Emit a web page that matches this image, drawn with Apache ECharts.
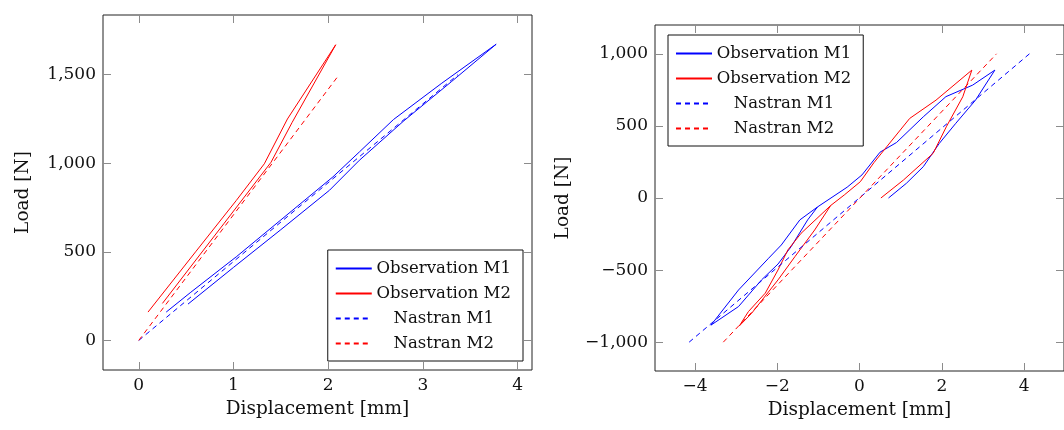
<!DOCTYPE html>
<html>
<head>
<meta charset="utf-8">
<script src="https://cdn.jsdelivr.net/npm/echarts@6/dist/echarts.min.js"></script>
<style>
  html, body { margin: 0; padding: 0; background: #fff; }
  #chart { width: 1064px; height: 430px; }
</style>
</head>
<body>
<div id="chart"></div>
<script>
// series names
const seriesNames = ['Observation M1', 'Observation M2', 'Nastran M1', 'Nastran M2'];

// left plot: monotonic loading [displacement mm, load N]
const leftObsM1 = [[0.29, 160], [0.55, 272], [1.03, 472], [1.5, 680], [2.05, 923], [2.33, 1064],
    [2.69, 1247], [3.2, 1452], [3.774, 1672], [3.3, 1460], [2.8, 1240], [2.33, 1017],
    [2.015, 848], [1.5, 625], [1.0, 412], [0.52, 205]];
const leftObsM2 = [[0.098, 160], [0.6, 500], [1.03, 790], [1.326, 997], [1.57, 1250], [2.08, 1669],
    [1.62, 1231], [1.397, 1006], [0.9, 660], [0.25, 209]];
const leftNasM1 = [[0, 0], [3.37, 1500]];
const leftNasM2 = [[0, 0], [2.116, 1500]];

// right plot: cyclic loading
const rightObsM1 = [[0.705, 0], [1.14, 102], [1.55, 217], [1.94, 379], [2.34, 518], [2.82, 679], [3.29, 887],
    [2.75, 783], [2.1, 703], [1.55, 563], [0.9, 385], [0.5, 318], [0.06, 160], [-0.3, 75], [-1.02, -62],
    [-1.45, -152], [-1.9, -326], [-2.21, -418], [-2.94, -638], [-3.61, -882],
    [-2.94, -753], [-2.38, -568], [-1.98, -458], [-1.66, -337], [-1.26, -152], [-1.02, -62]];
const rightObsM2 = [[0.52, 0], [1.07, 125], [1.79, 310], [2.11, 494], [2.51, 702], [2.73, 887],
    [1.86, 679], [1.22, 552], [0.66, 355], [0.35, 245], [0.02, 113], [-0.37, 21], [-0.70, -52],
    [-1.42, -245], [-1.74, -360], [-1.98, -499], [-2.29, -660], [-2.70, -788], [-2.92, -887],
    [-2.62, -799], [-1.98, -568], [-1.57, -407], [-1.09, -222], [-0.70, -52]];
const rightNasM1 = [[-4.14, -1000], [4.13, 1000]];
const rightNasM2 = [[-3.31, -1000], [3.33, 1000]];

// tick values
const leftXTicks = [0, 1, 2, 3, 4];
const leftYTicks = [0, 500, 1000, 1500];
const rightXTicks = [-4, -2, 0, 2, 4];
const rightYTicks = [-1000, -500, 0, 500, 1000];

const FONT = 'DejaVu Serif';
const BLUE = '#0000ff';
const RED = '#ff0000';
const TICK = '#8c8c8c';

function fmt(v) {
    const s = Math.abs(v).toString().replace(/\B(?=(\d{3})+(?!\d))/g, ',');
    return (v < 0 ? '\u2212' : '') + s;
}

function axis(opts, ticks, showLabel, extra) {
    return Object.assign({
        type: 'value',
        axisLine: {show: false, onZero: false},
        splitLine: {show: false},
        axisTick: {show: true, inside: true, length: 8, customValues: ticks,
            lineStyle: {color: TICK, width: 1}},
        axisLabel: {show: showLabel, customValues: ticks, formatter: fmt,
            fontFamily: FONT, fontSize: 17, color: '#111', margin: 7},
    }, opts, extra || {});
}

function line(name, data, color, dashed, idx) {
    return {
        name: name,
        type: 'line',
        data: data,
        xAxisIndex: idx,
        yAxisIndex: idx,
        symbol: 'none',
        color: color,
        lineStyle: {color: color, width: 1, type: dashed ? [5, 4] : 'solid'},
        z: dashed ? 3 : 2,
    };
}

function legend(pos) {
    return Object.assign({
        data: seriesNames,
        orient: 'vertical',
        backgroundColor: '#fff',
        borderColor: '#111',
        borderWidth: 1,
        padding: [10, 12, 9, 7],
        itemWidth: 36,
        itemHeight: 14,
        itemGap: 8,
        selectedMode: false,
        itemStyle: {opacity: 0},
        formatter: (name) => '{t|' + name + '}',
        textStyle: {
            fontFamily: FONT, fontSize: 16.5, color: '#111',
            rich: {t: {width: 134, align: 'center', fontFamily: FONT, fontSize: 16.5, color: '#111'}},
        },
    }, pos);
}

const nameStyle = {fontFamily: FONT, fontSize: 18.5, color: '#111'};

const chart = echarts.init(document.getElementById('chart'), null, {renderer: 'canvas'});
chart.setOption({
    animation: false,
    backgroundColor: '#fff',
    grid: [
        {left: 103, top: 15, width: 429, height: 355, show: true, borderColor: '#222', borderWidth: 1, backgroundColor: 'transparent'},
        {left: 655, top: 25, width: 414, height: 346, show: true, borderColor: '#222', borderWidth: 1, backgroundColor: 'transparent'},
    ],
    xAxis: [
        axis({gridIndex: 0, position: 'bottom', min: -0.3775, max: 4.1525}, leftXTicks, true,
            {name: 'Displacement [mm]', nameLocation: 'middle', nameGap: 30, nameTextStyle: nameStyle}),
        axis({gridIndex: 0, position: 'top', min: -0.3775, max: 4.1525}, leftXTicks, false),
        axis({gridIndex: 1, position: 'bottom', min: -4.97, max: 4.97}, rightXTicks, true,
            {name: 'Displacement [mm]', nameLocation: 'middle', nameGap: 30, nameTextStyle: nameStyle}),
        axis({gridIndex: 1, position: 'top', min: -4.97, max: 4.97}, rightXTicks, false),
    ],
    yAxis: [
        axis({gridIndex: 0, position: 'left', min: -167, max: 1837}, leftYTicks, true,
            {name: 'Load [N]', nameLocation: 'middle', nameRotate: 90, nameGap: 70, nameTextStyle: nameStyle}),
        axis({gridIndex: 0, position: 'right', min: -167, max: 1837}, leftYTicks, false),
        axis({gridIndex: 1, position: 'left', min: -1200, max: 1200}, rightYTicks, true,
            {name: 'Load [N]', nameLocation: 'middle', nameRotate: 90, nameGap: 82, nameTextStyle: nameStyle}),
        axis({gridIndex: 1, position: 'right', min: -1200, max: 1200}, rightYTicks, false),
    ],
    legend: [
        legend({right: 541, bottom: 69}),
        legend({left: 668, top: 35}),
    ],
    series: [
        line('Observation M1', leftObsM1, BLUE, false, 0),
        line('Observation M2', leftObsM2, RED, false, 0),
        line('Nastran M1', leftNasM1, BLUE, true, 0),
        line('Nastran M2', leftNasM2, RED, true, 0),
        line('Observation M1', rightObsM1, BLUE, false, 2),
        line('Observation M2', rightObsM2, RED, false, 2),
        line('Nastran M1', rightNasM1, BLUE, true, 2),
        line('Nastran M2', rightNasM2, RED, true, 2),
    ],
});
</script>
</body>
</html>
